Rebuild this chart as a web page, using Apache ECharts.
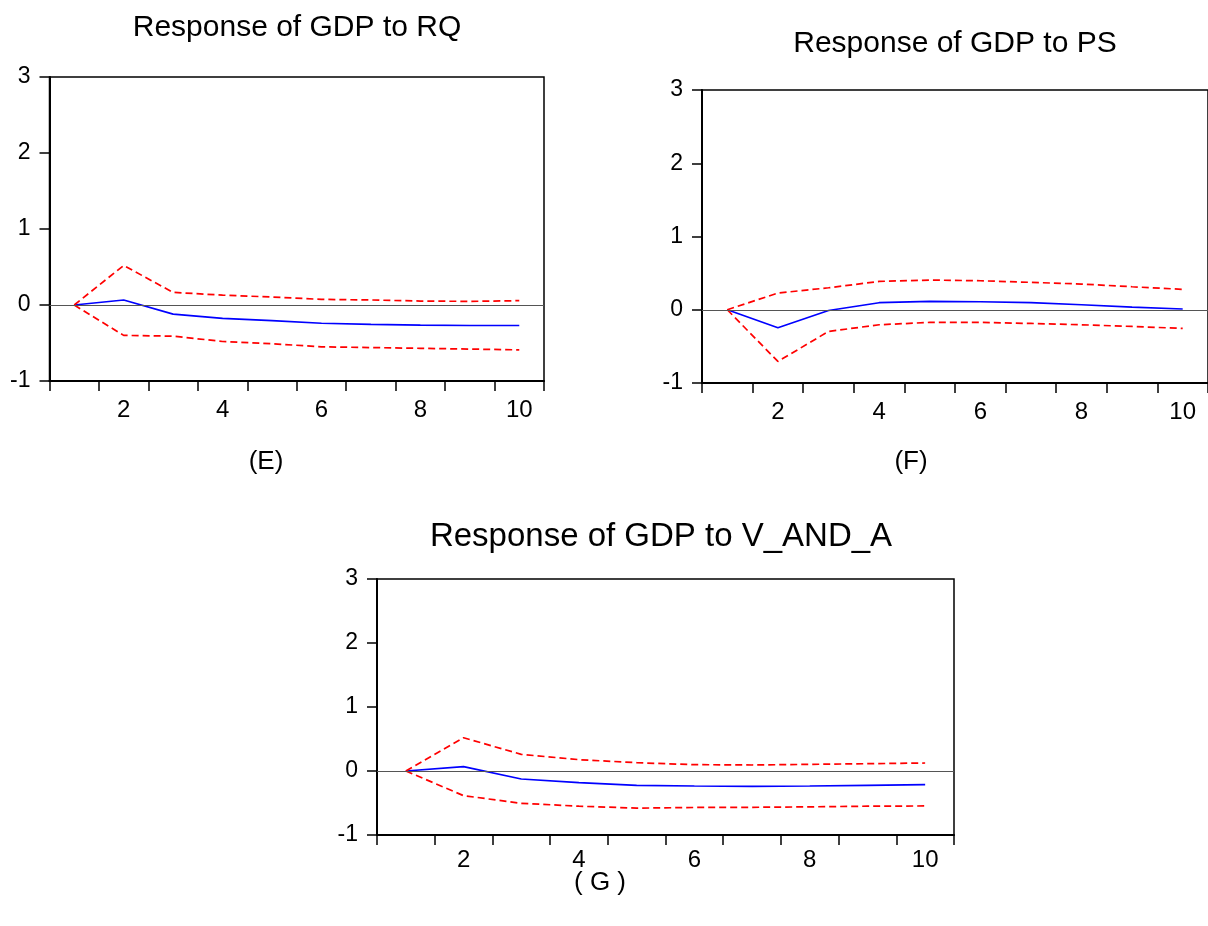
<!DOCTYPE html>
<html>
<head>
<meta charset="utf-8">
<script src="https://cdn.jsdelivr.net/npm/echarts@6/dist/echarts.min.js"></script>
<style>
html,body{margin:0;padding:0;background:#ffffff;}
#chart{width:1208px;height:926px;}
</style>
</head>
<body>
<div id="chart"></div>
<script>
// ---- data ----
const periods = ['1','2','3','4','5','6','7','8','9','10'];
const yMin = -1, yMax = 3, yStep = 1;

const titles = ['Response of GDP to RQ', 'Response of GDP to PS', 'Response of GDP to V_AND_A'];
const captions = ['(E)', '(F)', '( G )'];

// (E) Response of GDP to RQ
const rqResponse = [0, 0.066, -0.12, -0.175, -0.205, -0.24, -0.255, -0.265, -0.27, -0.27];
const rqUpper    = [0, 0.52, 0.166, 0.13, 0.105, 0.074, 0.066, 0.052, 0.048, 0.057];
const rqLower    = [0, -0.40, -0.41, -0.48, -0.51, -0.55, -0.56, -0.57, -0.58, -0.59];

// (F) Response of GDP to PS
const psResponse = [0, -0.246, -0.01, 0.096, 0.114, 0.109, 0.096, 0.068, 0.036, 0.01];
const psUpper    = [0, 0.228, 0.30, 0.387, 0.405, 0.396, 0.374, 0.351, 0.314, 0.278];
const psLower    = [0, -0.706, -0.296, -0.205, -0.173, -0.173, -0.187, -0.205, -0.228, -0.255];

// (G) Response of GDP to V_AND_A
const vaResponse = [0, 0.068, -0.125, -0.182, -0.224, -0.234, -0.239, -0.234, -0.224, -0.213];
const vaUpper    = [0, 0.52, 0.26, 0.177, 0.13, 0.099, 0.094, 0.104, 0.114, 0.125];
const vaLower    = [0, -0.385, -0.505, -0.55, -0.58, -0.57, -0.567, -0.56, -0.55, -0.546];

// ---- layout ----
const FONT = '"Liberation Sans", Arial, Helvetica, sans-serif';
const grids = [
  {left: 49.5, top: 77, width: 494.5, height: 304},
  {left: 702, top: 90, width: 508, height: 293},
  {left: 377, top: 579, width: 577, height: 256}
];
const titlePos = [
  {x: 297, y: 28, size: 30},
  {x: 955, y: 44, size: 30},
  {x: 661, y: 537, size: 33}
];
const captionPos = [
  {x: 266, y: 462},
  {x: 911, y: 462},
  {x: 600, y: 883}
];
const xLabelMargin = [17, 17, 13];

const panels = [
  [rqResponse, rqUpper, rqLower],
  [psResponse, psUpper, psLower],
  [vaResponse, vaUpper, vaLower]
];

const option = {
  animation: false,
  backgroundColor: '#ffffff',
  title: [],
  grid: [],
  xAxis: [],
  yAxis: [],
  series: []
};

panels.forEach((p, i) => {
  option.title.push({
    text: titles[i], left: titlePos[i].x, top: titlePos[i].y, padding: 0,
    textAlign: 'center', textVerticalAlign: 'middle',
    textStyle: {fontFamily: FONT, fontSize: titlePos[i].size, fontWeight: 'normal', color: '#000'}
  });
  option.title.push({
    text: captions[i], left: captionPos[i].x, top: captionPos[i].y, padding: 0,
    textAlign: 'center', textVerticalAlign: 'middle',
    textStyle: {fontFamily: FONT, fontSize: 26, fontWeight: 'normal', color: '#000'}
  });
  option.grid.push(Object.assign({show: true, borderColor: '#000', borderWidth: 1.5, backgroundColor: 'transparent', containLabel: false}, grids[i]));
  option.xAxis.push({
    type: 'category', gridIndex: i, data: periods, boundaryGap: true,
    axisLine: {show: true, onZero: false, lineStyle: {color: '#000', width: 2}},
    axisTick: {show: true, interval: 0, alignWithLabel: false, length: 10, lineStyle: {color: '#000', width: 1.5}},
    axisLabel: {
      show: true, interval: (idx) => idx % 2 === 1, margin: xLabelMargin[i],
      fontFamily: FONT, fontSize: 24, color: '#000'
    },
    splitLine: {show: false}
  });
  option.yAxis.push({
    type: 'value', gridIndex: i, min: yMin, max: yMax, interval: yStep,
    axisLine: {show: true, lineStyle: {color: '#000', width: 2}},
    axisTick: {show: true, length: 10, lineStyle: {color: '#000', width: 1.5}},
    axisLabel: {
      show: true, margin: 19, fontFamily: FONT, fontSize: 23, color: '#000',
      verticalAlign: 'middle', padding: [0, 0, 8, 0]
    },
    splitLine: {show: false}
  });
  option.series.push({
    type: 'line', xAxisIndex: i, yAxisIndex: i, data: p[0], symbol: 'none',
    lineStyle: {color: '#0000ff', width: 1.7, type: 'solid'}, z: 3,
    markLine: {
      silent: true, symbol: ['none', 'none'], label: {show: false},
      lineStyle: {color: '#555555', width: 1.2, type: 'solid'},
      data: [{yAxis: 0}]
    }
  });
  option.series.push({
    type: 'line', xAxisIndex: i, yAxisIndex: i, data: p[1], symbol: 'none',
    lineStyle: {color: '#ff0000', width: 1.7, type: [7, 4]}, z: 3
  });
  option.series.push({
    type: 'line', xAxisIndex: i, yAxisIndex: i, data: p[2], symbol: 'none',
    lineStyle: {color: '#ff0000', width: 1.7, type: [7, 4]}, z: 3
  });
});

const chart = echarts.init(document.getElementById('chart'), null, {renderer: 'canvas'});
chart.setOption(option);
</script>
</body>
</html>
